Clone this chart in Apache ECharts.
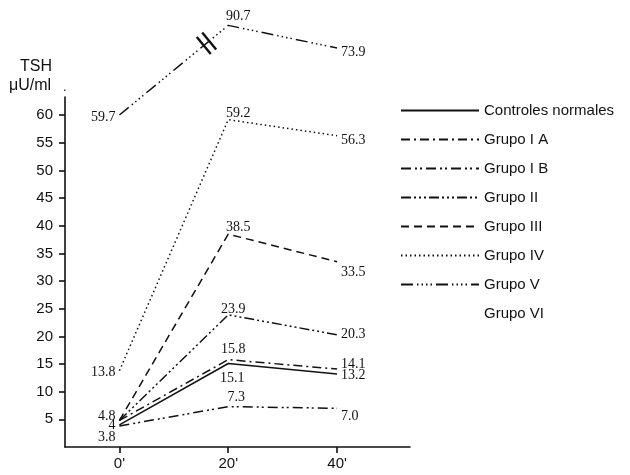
<!DOCTYPE html>
<html>
<head>
<meta charset="utf-8">
<script src="https://cdn.jsdelivr.net/npm/echarts@6/dist/echarts.min.js"></script>
<style>
  html, body { margin: 0; padding: 0; background: #fff; }
  #chart { width: 630px; height: 475px; }
</style>
</head>
<body>
<div id="chart"></div>
<script>
// Sampling times (minutes) and TSH (µU/ml) per group
const times = [0, 20, 40];
const timeLabels = ["0'", "20'", "40'"];
const yTickValues = [5, 10, 15, 20, 25, 30, 35, 40, 45, 50, 55, 60];

const controles = [4, 15.1, 13.2];
const grupoIA = [4.8, 15.8, 14.1];
const grupoIB = [3.8, 7.3, 7.0];
const grupoII = [4.8, 23.9, 20.3];
const grupoIII = [4.8, 38.5, 33.5];
const grupoIV = [13.8, 59.2, 56.3];
const grupoV = [59.7, 90.7, 73.9];
const grupoVI = [];

const INK = '#111';
const SERIF = '"Liberation Serif", "DejaVu Serif", serif';
const SANS = '"Liberation Sans", "DejaVu Sans", sans-serif';

// Where each value label sits relative to its point
const labelLayout = {
  'Controles normales': [{ pos: 'left', dec: 0 }, { pos: 'bottom', off: [4, 3], dist: 5 }, { pos: 'right', off: [0, 1] }],
  'Grupo I A': [{ pos: 'left', off: [0, -4] }, { pos: 'top', off: [5, 0], dist: 3 }, { pos: 'right', off: [0, -5] }],
  'Grupo I B': [{ pos: 'left', off: [0, 11] }, { pos: 'top', off: [8, 0], dist: 2 }, { pos: 'right', off: [0, 8] }],
  'Grupo II': [null, { pos: 'top', off: [5, 3], dist: 2 }, { pos: 'right' }],
  'Grupo III': [null, { pos: 'top', off: [10, 2], dist: 2 }, { pos: 'right', off: [0, 11] }],
  'Grupo IV': [{ pos: 'left', off: [0, 2] }, { pos: 'top', off: [10, 2], dist: 1 }, { pos: 'right', off: [0, 5] }],
  'Grupo V': [{ pos: 'left', off: [0, 2] }, { pos: 'top', off: [10, 0], dist: 2 }, { pos: 'right', off: [0, 4] }],
  'Grupo VI': []
};

const groups = [
  { name: 'Controles normales', values: controles, dash: 'solid' },
  { name: 'Grupo I A', values: grupoIA, dash: [9, 4, 2, 4] },
  { name: 'Grupo I B', values: grupoIB, dash: [10, 4, 2, 3, 2, 4] },
  { name: 'Grupo II', values: grupoII, dash: [10, 3, 2, 3, 2, 3, 2, 3] },
  { name: 'Grupo III', values: grupoIII, dash: [8, 5] },
  { name: 'Grupo IV', values: grupoIV, dash: [1.5, 3] },
  { name: 'Grupo V', values: grupoV, dash: [12, 4, 1.5, 3, 1.5, 3, 1.5, 3, 1.5, 4], upper: true },
  { name: 'Grupo VI', values: grupoVI, dash: 'solid' }
];

// Turn a side + offset into a label anchor around the point
function labelPlacement(L) {
  const d = L.dist === undefined ? 4 : L.dist;
  const o = L.off || [0, 0];
  switch (L.pos) {
    case 'left': return { position: [-d + o[0], o[1]], align: 'right', verticalAlign: 'middle' };
    case 'right': return { position: [d + o[0], o[1]], align: 'left', verticalAlign: 'middle' };
    case 'top': return { position: [o[0], -d + o[1]], align: 'center', verticalAlign: 'bottom' };
    default: return { position: [o[0], d + o[1]], align: 'center', verticalAlign: 'top' };
  }
}

function buildData(g) {
  const layout = labelLayout[g.name];
  return g.values.map((v, i) => {
    const L = layout[i];
    const item = { value: [times[i], v] };
    if (L) {
      const dec = L.dec === undefined ? 1 : L.dec;
      item.label = Object.assign({ show: true, formatter: () => v.toFixed(dec) }, labelPlacement(L));
    } else {
      item.label = { show: false };
    }
    return item;
  });
}

const series = groups.map(g => ({
  name: g.name,
  type: 'line',
  xAxisIndex: g.upper ? 1 : 0,
  yAxisIndex: g.upper ? 1 : 0,
  data: buildData(g),
  symbol: 'circle',
  symbolSize: 0,
  showSymbol: true,
  clip: false,
  silent: true,
  animation: false,
  lineStyle: { color: INK, width: 1.5, type: g.dash },
  itemStyle: { color: INK, opacity: 0 },
  label: { color: INK, fontFamily: SERIF, fontSize: 14, opacity: 1 },
  labelLayout: { hideOverlap: false },
  z: 3
}));

const chart = echarts.init(document.getElementById('chart'), null, { renderer: 'canvas' });

const xCommon = { type: 'value', min: -10, max: 53.4 };
const tickStyle = { color: INK, width: 1.6 };

chart.setOption({
  backgroundColor: '#fff',
  animation: false,
  grid: [
    { left: 65, right: 220, top: 97, bottom: 28, containLabel: false, outerBoundsMode: 'none' },
    { left: 65, right: 220, top: 5.1, bottom: 337.8, containLabel: false, outerBoundsMode: 'none' }
  ],
  xAxis: [
    Object.assign({}, xCommon, {
      gridIndex: 0, position: 'bottom',
      splitLine: { show: false },
      axisLine: { show: true, onZero: false, lineStyle: tickStyle },
      axisTick: { show: true, inside: false, length: 6, customValues: times, lineStyle: tickStyle },
      axisLabel: {
        show: true, customValues: times, margin: 9, color: INK, fontFamily: SANS, fontSize: 15,
        formatter: v => timeLabels[times.indexOf(v)]
      }
    }),
    Object.assign({}, xCommon, { gridIndex: 1, show: false })
  ],
  yAxis: [
    {
      type: 'value', gridIndex: 0, min: 0, max: 63.3, position: 'left',
      splitLine: { show: false },
      axisLine: { show: true, onZero: false, lineStyle: tickStyle },
      axisTick: { show: true, inside: false, length: 6, customValues: yTickValues, lineStyle: tickStyle },
      axisLabel: { show: true, customValues: yTickValues, margin: 12, color: INK, fontFamily: SANS, fontSize: 15 }
    },
    {
      // upper, compressed scale for the highest group
      type: 'value', gridIndex: 1, min: 55, max: 95, show: false,
      breaks: [{ start: 75, end: 90, gap: 3 }],
      breakArea: { show: false }
    }
  ],
  legend: {
    orient: 'vertical',
    left: 395,
    top: 98,
    padding: 5,
    itemWidth: 78,
    itemHeight: 14,
    itemGap: 14,
    selectedMode: false,
    itemStyle: { opacity: 0 },
    textStyle: { color: INK, fontFamily: SANS, fontSize: 15 },
    data: groups.map(g => g.name === 'Grupo VI'
      ? { name: g.name, lineStyle: { opacity: 0, width: 0 } }
      : { name: g.name })
  },
  graphic: [
    { type: 'text', id: 'ttl1', left: 20, top: 59, style: { text: 'TSH', fill: INK, fontSize: 16, fontFamily: SANS } },
    { type: 'text', id: 'ttl2', left: 9, top: 78, style: { text: 'μU/ml', fill: INK, fontSize: 16, fontFamily: SANS } },
    { type: 'text', id: 'ttl3', left: 63, top: 81, style: { text: '.', fill: INK, fontSize: 13, fontFamily: SANS } }
  ],
  series: series
});

// Break marks ("//") across the segment that jumps the axis break
(function drawBreakMarks() {
  const idx = groups.findIndex(g => g.upper);
  const g = groups[idx];
  const p0 = chart.convertToPixel({ seriesIndex: idx }, [times[0], g.values[0]]);
  const p1 = chart.convertToPixel({ seriesIndex: idx }, [times[1], g.values[1]]);
  const dx = p1[0] - p0[0], dy = p1[1] - p0[1];
  const len = Math.hypot(dx, dy);
  const ux = dx / len, uy = dy / len;        // along segment
  const nx = -uy, ny = ux;                    // perpendicular
  const t = 0.8, half = 11, sep = 3.5;
  const cx = p0[0] + dx * t, cy = p0[1] + dy * t;
  const marks = [-1, 1].map((s, i) => {
    const mx = cx + ux * sep * s, my = cy + uy * sep * s;
    return {
      type: 'line',
      id: 'brk' + i,
      z: 10,
      shape: { x1: mx - nx * half, y1: my - ny * half, x2: mx + nx * half, y2: my + ny * half },
      style: { stroke: INK, lineWidth: 2.4 }
    };
  });
  chart.setOption({ graphic: marks });
})();
</script>
</body>
</html>
